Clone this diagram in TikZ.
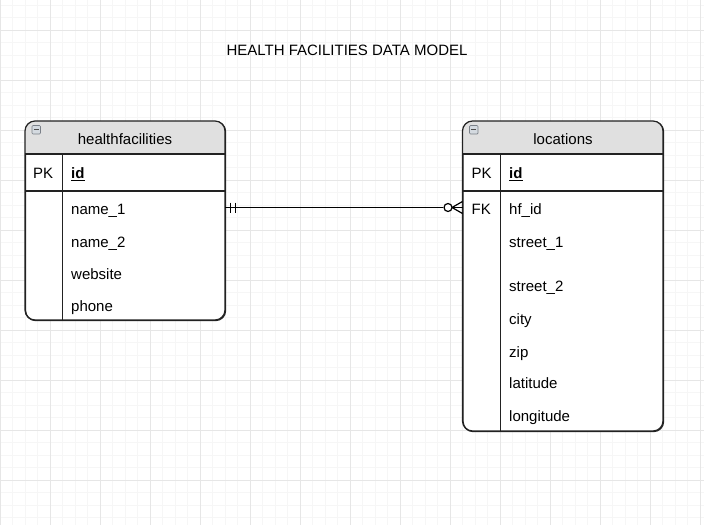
\documentclass[tikz,border=0pt]{standalone}
\usepackage{fontspec}
\setmainfont{Liberation Sans}
\definecolor{minorgrid}{HTML}{F6F6F6}
\definecolor{majorgrid}{HTML}{E6E6E6}
\definecolor{hdrfill}{HTML}{E0E0E0}
\definecolor{edge}{HTML}{222222}
\definecolor{iconfill}{HTML}{D4DAE0}
\definecolor{iconedge}{HTML}{7A8088}
\begin{document}
\begin{tikzpicture}[x=1pt,y=-1pt,
  lbl/.style={inner sep=0pt, anchor=base west, font=\fontsize{15}{18}\selectfont, text=black},
  ttl/.style={inner sep=0pt, anchor=base, font=\fontsize{15}{18}\selectfont, text=black},
  tbl/.style={draw=edge, line width=1.2pt, rounded corners=10pt, fill=white, inner sep=0pt, anchor=north west},
  sep/.style={draw=edge, line width=1.2pt},
  rel/.style={draw=black, line width=1.2pt},
  iconbox/.style={draw=iconedge, line width=0.7pt, fill=iconfill, rounded corners=1pt},
  iconbar/.style={draw=edge!80, line width=1.1pt}
]
\useasboundingbox (0,0) rectangle (704,525);
\fill[white] (0,0) rectangle (704,525);
% grid
\foreach \i in {0,...,57} \draw[minorgrid, line width=0.8pt] (\i*12.5,0) -- (\i*12.5,525);
\foreach \j in {0,...,42} \draw[minorgrid, line width=0.8pt] (0,5+\j*12.5) -- (704,5+\j*12.5);
\foreach \i in {0,...,14} \draw[majorgrid, line width=0.8pt] (\i*50,0) -- (\i*50,525);
\foreach \j in {0,...,10} \draw[majorgrid, line width=0.8pt] (0,30+\j*50) -- (704,30+\j*50);

% title
\node[ttl] (title) at (347,55.7) {HEALTH FACILITIES DATA MODEL};

% ---- healthfacilities table ----
\node[tbl, minimum width=200pt, minimum height=199pt] (hf) at (25,121) {};
\begin{scope}
  \clip[rounded corners=10pt] (25,121) rectangle (225,320);
  \fill[hdrfill] (25,121) rectangle (225,154);
\end{scope}
\draw[edge, line width=1.2pt, rounded corners=10pt] (25,121) rectangle (225,320);
\draw[sep] (25,154) -- (225,154);
\draw[sep] (25,191) -- (225,191);
\draw[sep] (62.7,154) -- (62.7,320);
\draw[iconbox] (32,125.5) rectangle (40.5,134);
\draw[iconbar] (33.8,129.8) -- (38.7,129.8);
\node[ttl] (hfhead) at (125,144) {healthfacilities};
\node[lbl] (hfpk) at (33,178.3) {PK};
\node[lbl] (hfid) at (71,178.3) {\underline{\textbf{id}}};
\node[lbl] (hfname1) at (71,214.3) {name\_1};
\node[lbl] (hfname2) at (71,247.3) {name\_2};
\node[lbl] (hfweb) at (71,279) {website};
\node[lbl] (hfphone) at (71,311.7) {phone};

% ---- locations table ----
\node[tbl, minimum width=200.5pt, minimum height=310pt] (loc) at (462.5,121) {};
\begin{scope}
  \clip[rounded corners=10pt] (462.5,121) rectangle (663,431);
  \fill[hdrfill] (462.5,121) rectangle (663,154);
\end{scope}
\draw[edge, line width=1.2pt, rounded corners=10pt] (462.5,121) rectangle (663,431);
\draw[sep] (462.5,154) -- (663,154);
\draw[sep] (462.5,191) -- (663,191);
\draw[sep] (500.3,154) -- (500.3,431);
\draw[iconbox] (469.5,125.5) rectangle (478,134);
\draw[iconbar] (471.3,129.8) -- (476.2,129.8);
\node[ttl] (lochead) at (563,144) {locations};
\node[lbl] (locpk) at (471.5,178.3) {PK};
\node[lbl] (locfk) at (471.5,214.3) {FK};
\node[lbl] (locid) at (509,178.3) {\underline{\textbf{id}}};
\node[lbl] (lochfid) at (509,214.3) {hf\_id};
\node[lbl] (locst1) at (509,247.3) {street\_1};
\node[lbl] (locst2) at (509,291.7) {street\_2};
\node[lbl] (loccity) at (509,324.3) {city};
\node[lbl] (loczip) at (509,357.3) {zip};
\node[lbl] (loclat) at (509,388.3) {latitude};
\node[lbl] (loclon) at (509,421.7) {longitude};

% ---- relationship ----
\coordinate (ra) at (225,207.5);
\coordinate (rb) at (462.5,207.5);
\node[circle, draw=black, line width=1.2pt, fill=white, minimum size=8pt, inner sep=0pt] (ring) at (448,207.5) {};
\draw[rel] (ra) -- (ring.west);
\draw[rel] (230.5,202.5) -- (230.5,212.5);
\draw[rel] (235.5,202.5) -- (235.5,212.5);
\draw[rel] (ring.east) -- (rb);
\draw[rel] (452,207.5) -- (462.5,201.5);
\draw[rel] (452,207.5) -- (462.5,213.5);
\end{tikzpicture}
\end{document}
